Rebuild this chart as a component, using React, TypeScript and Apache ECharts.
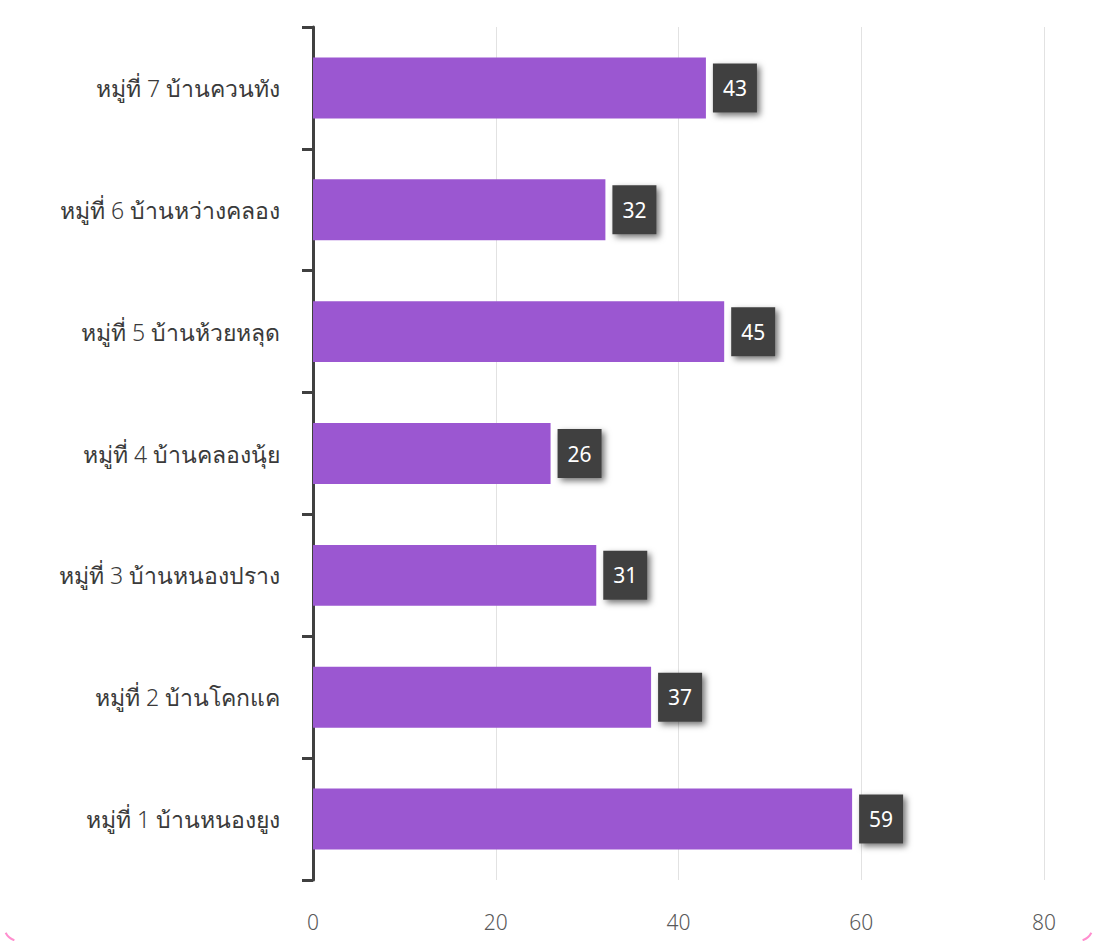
import React, { useEffect, useRef } from "react";
import * as echarts from "echarts";

const categories = [
  "หมู่ที่ 1 บ้านหนองยูง",
  "หมู่ที่ 2 บ้านโคกแค",
  "หมู่ที่ 3 บ้านหนองปราง",
  "หมู่ที่ 4 บ้านคลองนุ้ย",
  "หมู่ที่ 5 บ้านห้วยหลุด",
  "หมู่ที่ 6 บ้านหว่างคลอง",
  "หมู่ที่ 7 บ้านควนทัง",
];
const values = [59, 37, 31, 26, 45, 32, 43];
const xTicks = [0, 20, 40, 60, 80];

export default function App() {
  const ref = useRef<HTMLDivElement>(null);
  useEffect(() => {
    document.body.style.margin = "0";
    const chart = echarts.init(ref.current!, null, { renderer: "svg" });
    chart.setOption({
      animation: false,
      backgroundColor: "#ffffff",
      grid: { left: 313, right: 53, top: 27, bottom: 61, containLabel: false },
      xAxis: {
        type: "value",
        min: xTicks[0],
        max: xTicks[xTicks.length - 1],
        interval: 20,
        axisLine: { show: false },
        axisTick: { show: false },
        axisLabel: {
          color: "#595959",
          fontSize: 21,
          margin: 31,
          fontFamily: "Noto Sans, sans-serif",
          fontWeight: 300,
        },
        splitLine: { show: true, lineStyle: { color: "#e2e2e2", width: 1 } },
      },
      yAxis: {
        type: "category",
        data: categories,
        axisLine: { show: true, lineStyle: { color: "#404040", width: 3 } },
        axisTick: { show: true, length: 11, lineStyle: { color: "#404040", width: 3 } },
        axisLabel: {
          color: "#3a3a3a",
          fontSize: 23,
          margin: 33,
          fontWeight: 300,
          fontFamily: "Noto Sans, Tahoma, sans-serif",
        },
      },
      series: [
        {
          type: "bar",
          data: values,
          barWidth: "50%",
          itemStyle: { color: "#9b57d1" },
          label: {
            show: true,
            position: "right",
            distance: 7,
            color: "#ffffff",
            fontSize: 21,
            fontFamily: "Noto Sans, sans-serif",
            backgroundColor: "#404040",
            padding: [12, 10, 12, 10],
            lineHeight: 25,
            shadowColor: "rgba(0,0,0,0.55)",
            shadowBlur: 6,
            shadowOffsetX: 3,
            shadowOffsetY: 3,
          },
        },
      ],
      graphic: [
        {
          type: "arc",
          shape: { cx: 19, cy: 926, r: 15, startAngle: Math.PI * 0.6, endAngle: Math.PI * 0.85 },
          style: { stroke: "#ff8fcf", lineWidth: 2, fill: "none" },
        },
        {
          type: "arc",
          shape: { cx: 1078, cy: 926, r: 15, startAngle: Math.PI * 0.15, endAngle: Math.PI * 0.4 },
          style: { stroke: "#ff8fcf", lineWidth: 2, fill: "none" },
        },
      ],
    });
    return () => chart.dispose();
  }, []);
  return <div ref={ref} style={{ width: 1097, height: 941 }} />;
}
